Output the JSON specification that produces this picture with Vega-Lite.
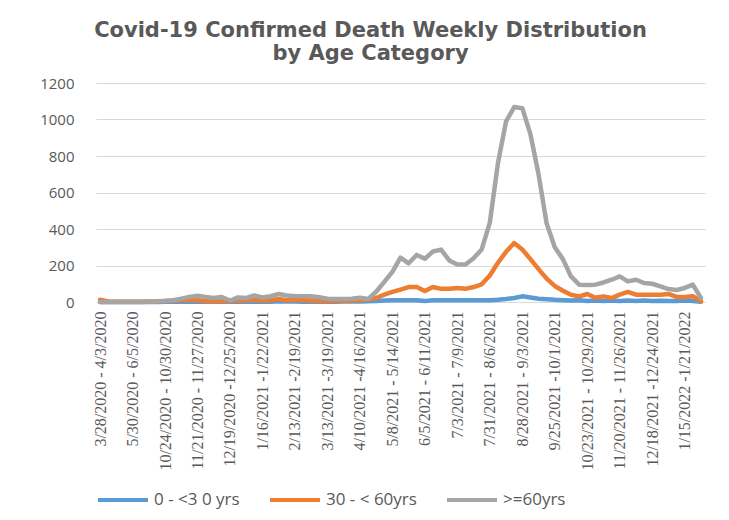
{
  "$schema": "https://vega.github.io/schema/vega-lite/v6.json",
  "width": 609,
  "height": 219,
  "autosize": {"type": "none"},
  "padding": {"left": 96, "top": 83, "right": 24, "bottom": 218},
  "background": "white",
  "title": {
    "text": ["Covid-19 Confirmed  Death Weekly Distribution", "by Age Category"],
    "font": "DejaVu Sans",
    "fontSize": 21,
    "fontWeight": "bold",
    "color": "#595959",
    "lineHeight": 23,
    "anchor": "middle",
    "dx": -30,
    "offset": 12
  },
  "data": {
    "values": [
      {"w": "3/28/2020 - 4/3/2020", "s1": 0, "s2": 12, "s3": 0},
      {"w": "4/18/2020 - 4/24/2020", "s1": 0, "s2": 3, "s3": 0},
      {"w": "5/2/2020 - 5/8/2020", "s1": 0, "s2": 2, "s3": 0},
      {"w": "5/16/2020 - 5/22/2020", "s1": 0, "s2": 2, "s3": 0},
      {"w": "5/30/2020 - 6/5/2020", "s1": 0, "s2": 2, "s3": 0},
      {"w": "7/4/2020 - 7/10/2020", "s1": 0, "s2": 2, "s3": 0},
      {"w": "8/15/2020 - 8/21/2020", "s1": 0, "s2": 3, "s3": 1},
      {"w": "9/26/2020 - 10/2/2020", "s1": 0, "s2": 4, "s3": 3},
      {"w": "10/24/2020 - 10/30/2020", "s1": 1, "s2": 6, "s3": 5},
      {"w": "10/31/2020 - 11/6/2020", "s1": 1, "s2": 8, "s3": 10},
      {"w": "11/7/2020 - 11/13/2020", "s1": 1, "s2": 10, "s3": 18},
      {"w": "11/14/2020 - 11/20/2020", "s1": 2, "s2": 12, "s3": 28},
      {"w": "11/21/2020 - 11/27/2020", "s1": 2, "s2": 10, "s3": 34},
      {"w": "11/28/2020 - 12/4/2020", "s1": 1, "s2": 6, "s3": 28},
      {"w": "12/5/2020 - 12/11/2020", "s1": 2, "s2": 3, "s3": 22},
      {"w": "12/12/2020 - 12/18/2020", "s1": 1, "s2": 6, "s3": 27},
      {"w": "12/19/2020 -12/25/2020", "s1": 2, "s2": 5, "s3": 8},
      {"w": "12/26/2020 - 1/1/2021", "s1": 2, "s2": 8, "s3": 25},
      {"w": "1/2/2021 - 1/8/2021", "s1": 3, "s2": 10, "s3": 22},
      {"w": "1/9/2021 - 1/15/2021", "s1": 2, "s2": 12, "s3": 36},
      {"w": "1/16/2021 -1/22/2021", "s1": 3, "s2": 8, "s3": 25},
      {"w": "1/23/2021 - 1/29/2021", "s1": 2, "s2": 10, "s3": 32},
      {"w": "1/30/2021 - 2/5/2021", "s1": 4, "s2": 16, "s3": 44},
      {"w": "2/6/2021 - 2/12/2021", "s1": 3, "s2": 10, "s3": 36},
      {"w": "2/13/2021 -2/19/2021", "s1": 3, "s2": 12, "s3": 31},
      {"w": "2/20/2021 - 2/26/2021", "s1": 2, "s2": 10, "s3": 31},
      {"w": "2/27/2021 - 3/5/2021", "s1": 2, "s2": 8, "s3": 31},
      {"w": "3/6/2021 - 3/12/2021", "s1": 2, "s2": 6, "s3": 26},
      {"w": "3/13/2021 -3/19/2021", "s1": 2, "s2": 5, "s3": 18},
      {"w": "3/20/2021 - 3/26/2021", "s1": 2, "s2": 6, "s3": 16},
      {"w": "3/27/2021 - 4/2/2021", "s1": 3, "s2": 7, "s3": 16},
      {"w": "4/3/2021 - 4/9/2021", "s1": 3, "s2": 8, "s3": 18},
      {"w": "4/10/2021 -4/16/2021", "s1": 3, "s2": 10, "s3": 23},
      {"w": "4/17/2021 - 4/23/2021", "s1": 4, "s2": 14, "s3": 16},
      {"w": "4/24/2021 - 4/30/2021", "s1": 6, "s2": 22, "s3": 56},
      {"w": "5/1/2021 - 5/7/2021", "s1": 8, "s2": 40, "s3": 110},
      {"w": "5/8/2021 - 5/14/2021", "s1": 9, "s2": 55, "s3": 165},
      {"w": "5/15/2021 - 5/21/2021", "s1": 9, "s2": 68, "s3": 243},
      {"w": "5/22/2021 - 5/28/2021", "s1": 10, "s2": 82, "s3": 212},
      {"w": "5/29/2021 - 6/4/2021", "s1": 10, "s2": 82, "s3": 258},
      {"w": "6/5/2021 - 6/11/2021", "s1": 5, "s2": 60, "s3": 237},
      {"w": "6/12/2021 - 6/18/2021", "s1": 9, "s2": 82, "s3": 277},
      {"w": "6/19/2021 - 6/25/2021", "s1": 10, "s2": 72, "s3": 287},
      {"w": "6/26/2021 - 7/2/2021", "s1": 9, "s2": 72, "s3": 228},
      {"w": "7/3/2021 - 7/9/2021", "s1": 9, "s2": 77, "s3": 205},
      {"w": "7/10/2021 - 7/16/2021", "s1": 9, "s2": 72, "s3": 205},
      {"w": "7/17/2021 - 7/23/2021", "s1": 10, "s2": 82, "s3": 240},
      {"w": "7/24/2021 - 7/30/2021", "s1": 10, "s2": 97, "s3": 288},
      {"w": "7/31/2021 - 8/6/2021", "s1": 10, "s2": 145, "s3": 435},
      {"w": "8/7/2021 - 8/13/2021", "s1": 12, "s2": 215, "s3": 760},
      {"w": "8/14/2021 - 8/20/2021", "s1": 16, "s2": 275, "s3": 990},
      {"w": "8/21/2021 - 8/27/2021", "s1": 22, "s2": 323, "s3": 1068},
      {"w": "8/28/2021 - 9/3/2021", "s1": 31, "s2": 288, "s3": 1062},
      {"w": "9/4/2021 - 9/10/2021", "s1": 25, "s2": 235, "s3": 920},
      {"w": "9/11/2021 - 9/17/2021", "s1": 18, "s2": 180, "s3": 700},
      {"w": "9/18/2021 - 9/24/2021", "s1": 15, "s2": 128, "s3": 430},
      {"w": "9/25/2021 -10/1/2021", "s1": 12, "s2": 88, "s3": 300},
      {"w": "10/2/2021 - 10/8/2021", "s1": 10, "s2": 62, "s3": 235},
      {"w": "10/9/2021 - 10/15/2021", "s1": 8, "s2": 40, "s3": 140},
      {"w": "10/16/2021 - 10/22/2021", "s1": 10, "s2": 31, "s3": 95},
      {"w": "10/23/2021 - 10/29/2021", "s1": 6, "s2": 44, "s3": 93},
      {"w": "10/30/2021 - 11/5/2021", "s1": 8, "s2": 23, "s3": 95},
      {"w": "11/6/2021 - 11/12/2021", "s1": 5, "s2": 31, "s3": 107},
      {"w": "11/13/2021 - 11/19/2021", "s1": 8, "s2": 22, "s3": 122},
      {"w": "11/20/2021 - 11/26/2021", "s1": 6, "s2": 40, "s3": 140},
      {"w": "11/27/2021 - 12/3/2021", "s1": 8, "s2": 55, "s3": 113},
      {"w": "12/4/2021 - 12/10/2021", "s1": 6, "s2": 40, "s3": 122},
      {"w": "12/11/2021 - 12/17/2021", "s1": 8, "s2": 40, "s3": 104},
      {"w": "12/18/2021 -12/24/2021", "s1": 5, "s2": 40, "s3": 100},
      {"w": "12/25/2021 - 12/31/2021", "s1": 7, "s2": 40, "s3": 86},
      {"w": "1/1/2022 - 1/7/2022", "s1": 6, "s2": 44, "s3": 71},
      {"w": "1/8/2022 - 1/14/2022", "s1": 5, "s2": 28, "s3": 66},
      {"w": "1/15/2022 -1/21/2022", "s1": 8, "s2": 27, "s3": 77},
      {"w": "1/22/2022 - 1/28/2022", "s1": 5, "s2": 32, "s3": 95},
      {"w": "1/29/2022 - 2/4/2022", "s1": 2, "s2": 3, "s3": 22}
    ]
  },
  "transform": [
    {"fold": ["s1", "s2", "s3"], "as": ["series", "deaths"]}
  ],
  "mark": {"type": "line", "strokeWidth": 4.5, "strokeJoin": "round", "strokeCap": "round"},
  "encoding": {
    "x": {
      "field": "w",
      "type": "ordinal",
      "sort": null,
      "scale": {"type": "point", "padding": 0.5},
      "axis": {
        "title": null,
        "values": ["3/28/2020 - 4/3/2020", "5/30/2020 - 6/5/2020", "10/24/2020 - 10/30/2020", "11/21/2020 - 11/27/2020", "12/19/2020 -12/25/2020", "1/16/2021 -1/22/2021", "2/13/2021 -2/19/2021", "3/13/2021 -3/19/2021", "4/10/2021 -4/16/2021", "5/8/2021 - 5/14/2021", "6/5/2021 - 6/11/2021", "7/3/2021 - 7/9/2021", "7/31/2021 - 8/6/2021", "8/28/2021 - 9/3/2021", "9/25/2021 -10/1/2021", "10/23/2021 - 10/29/2021", "11/20/2021 - 11/26/2021", "12/18/2021 -12/24/2021", "1/15/2022 -1/21/2022"],
        "labelAngle": -90,
        "labelFont": "Liberation Sans Narrow",
        "labelFontSize": 16,
        "labelLimit": 300,
        "labelColor": "#595959",
        "labelPadding": 9,
        "labelOverlap": false,
        "ticks": false,
        "domain": true,
        "domainColor": "#D9D9D9",
        "domainWidth": 1,
        "grid": false
      }
    },
    "y": {
      "field": "deaths",
      "type": "quantitative",
      "scale": {"domain": [0, 1200], "nice": false},
      "axis": {
        "title": null,
        "format": "d",
        "values": [0, 200, 400, 600, 800, 1000, 1200],
        "labelFont": "Open Sans",
        "labelFontSize": 15,
        "labelColor": "#595959",
        "labelPadding": 22,
        "ticks": false,
        "domain": false,
        "grid": true,
        "gridColor": "#D9D9D9",
        "gridWidth": 1
      }
    },
    "color": {
      "field": "series",
      "type": "nominal",
      "scale": {"domain": ["s1", "s2", "s3"], "range": ["#5B9BD5", "#ED7D31", "#A5A5A5"]},
      "legend": {
        "title": null,
        "orient": "bottom",
        "direction": "horizontal",
        "offset": 2,
        "symbolType": "stroke",
        "symbolSize": 2500,
        "symbolStrokeWidth": 4,
        "labelFont": "Open Sans",
        "labelFontSize": 17,
        "labelColor": "#595959",
        "labelOffset": 4,
        "columnPadding": 22,
        "labelExpr": "datum.value === 's1' ? '0 - <3 0 yrs' : datum.value === 's2' ? '30 - < 60yrs' : '>=60yrs'"
      }
    }
  },
  "config": {
    "view": {"stroke": null}
  }
}
